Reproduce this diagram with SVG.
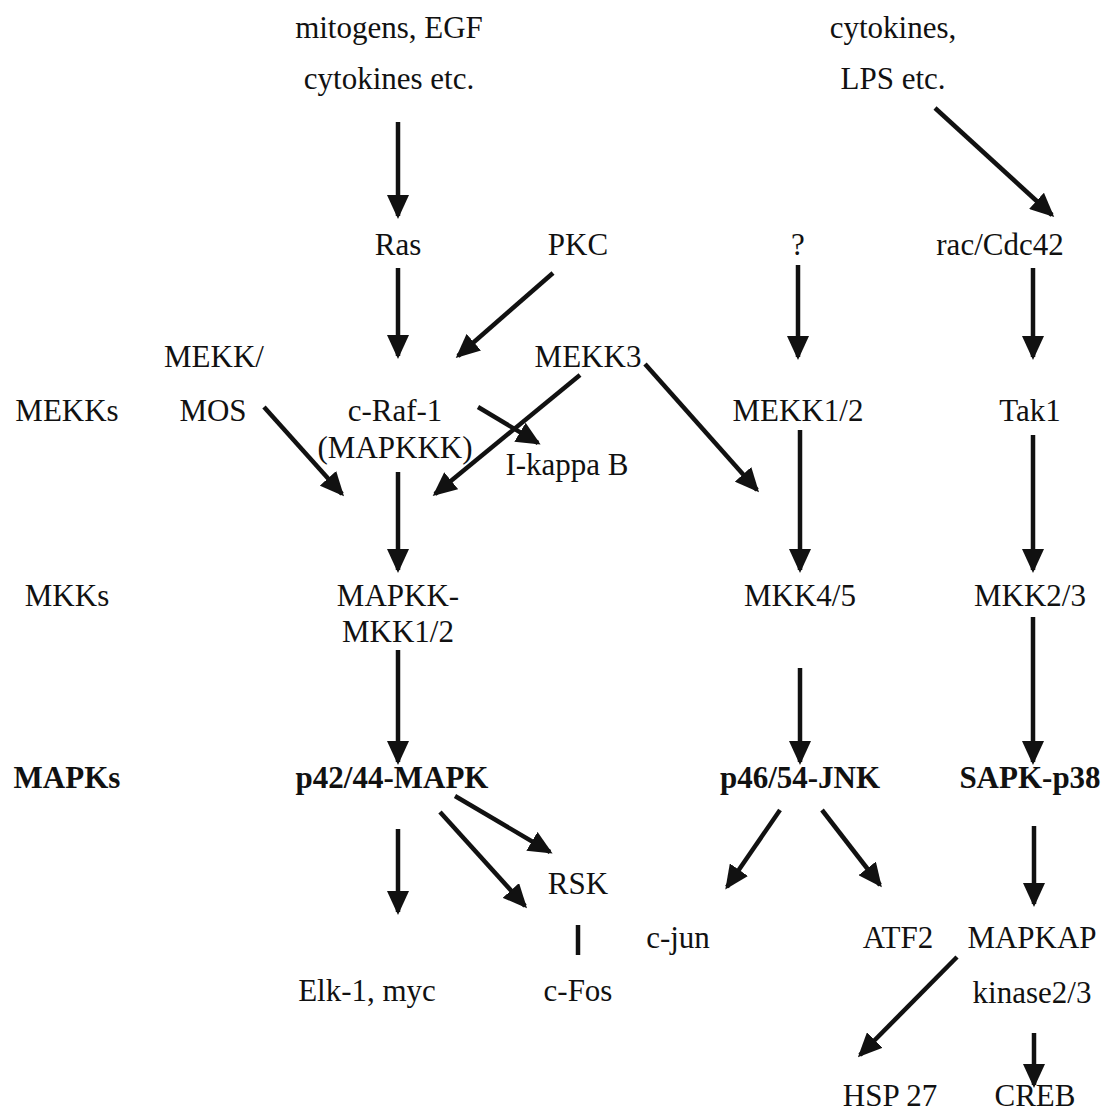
<svg xmlns="http://www.w3.org/2000/svg" width="1109" height="1117" viewBox="0 0 1109 1117">
<style>
text{font-family:"Liberation Serif","Times New Roman",serif;font-size:31px;fill:#111;text-anchor:middle}
.b{font-weight:bold}
.c line{stroke:#111;stroke-width:4.5;marker-end:url(#ah)}
.c line.nh{marker-end:none}
</style>
<defs>
<marker id="ah" markerUnits="userSpaceOnUse" markerWidth="24" markerHeight="22" refX="21" refY="11" orient="auto">
<path d="M0,0 L24,11 L0,22 z" fill="#111"/>
</marker>
</defs>
<rect width="1109" height="1117" fill="#fff"/>
<g class="c" id="connectors">
<line x1="398" y1="122" x2="398" y2="216"/>
<line x1="935" y1="108" x2="1052" y2="215"/>
<line x1="398" y1="268" x2="398" y2="356"/>
<line x1="553" y1="273" x2="458" y2="356"/>
<line x1="798" y1="265" x2="798" y2="357"/>
<line x1="1033" y1="268" x2="1033" y2="357"/>
<line x1="264" y1="407" x2="342" y2="494"/>
<line x1="478" y1="407" x2="538" y2="443"/>
<line x1="580" y1="375" x2="435" y2="494"/>
<line x1="645" y1="364" x2="757" y2="490"/>
<line x1="398" y1="472" x2="398" y2="570"/>
<line x1="800" y1="430" x2="800" y2="570"/>
<line x1="1033" y1="435" x2="1033" y2="570"/>
<line x1="398" y1="650" x2="398" y2="762"/>
<line x1="800" y1="668" x2="800" y2="762"/>
<line x1="1033" y1="617" x2="1033" y2="762"/>
<line x1="455" y1="796" x2="550" y2="852"/>
<line x1="440" y1="812" x2="525" y2="906"/>
<line x1="398" y1="829" x2="398" y2="912"/>
<line x1="780" y1="810" x2="727" y2="887"/>
<line x1="822" y1="810" x2="880" y2="885"/>
<line x1="1034" y1="826" x2="1034" y2="904"/>
<line class="nh" x1="578" y1="925" x2="578" y2="955"/>
<line x1="957" y1="957" x2="860" y2="1055"/>
<line x1="1034" y1="1033" x2="1034" y2="1085"/>
</g>
<g id="n-mitogens"><text x="389" y="38">mitogens, EGF</text><text x="389" y="89">cytokines etc.</text></g>
<g id="n-cytokines"><text x="893" y="38">cytokines,</text><text x="893" y="89">LPS etc.</text></g>
<g id="n-ras"><text x="398" y="255">Ras</text></g>
<g id="n-pkc"><text x="578" y="255">PKC</text></g>
<g id="n-q"><text x="798" y="255">?</text></g>
<g id="n-rac"><text x="1000" y="255">rac/Cdc42</text></g>
<g id="n-mekkmos"><text x="214" y="367">MEKK/</text><text x="213" y="421">MOS</text></g>
<g id="n-mekk3"><text x="588" y="367">MEKK3</text></g>
<g id="n-mekks"><text x="67" y="421">MEKKs</text></g>
<g id="n-craf"><text x="395" y="421">c-Raf-1</text><text x="395" y="458">(MAPKKK)</text></g>
<g id="n-mekk12"><text x="798" y="421">MEKK1/2</text></g>
<g id="n-tak1"><text x="1030" y="421">Tak1</text></g>
<g id="n-ikappab"><text x="567" y="475">I-kappa B</text></g>
<g id="n-mkks"><text x="67" y="606">MKKs</text></g>
<g id="n-mapkk"><text x="398" y="606">MAPKK-</text><text x="398" y="642">MKK1/2</text></g>
<g id="n-mkk45"><text x="800" y="606">MKK4/5</text></g>
<g id="n-mkk23"><text x="1030" y="606">MKK2/3</text></g>
<g id="n-mapks"><text class="b" x="67" y="788">MAPKs</text></g>
<g id="n-p42"><text class="b" x="392" y="788">p42/44-MAPK</text></g>
<g id="n-p46"><text class="b" x="800" y="788">p46/54-JNK</text></g>
<g id="n-sapk"><text class="b" x="1030" y="788">SAPK-p38</text></g>
<g id="n-rsk"><text x="578" y="894">RSK</text></g>
<g id="n-cjun"><text x="678" y="948">c-jun</text></g>
<g id="n-atf2"><text x="898" y="948">ATF2</text></g>
<g id="n-mapkap"><text x="1032" y="948">MAPKAP</text><text x="1032" y="1003">kinase2/3</text></g>
<g id="n-elk"><text x="367" y="1001">Elk-1, myc</text></g>
<g id="n-cfos"><text x="578" y="1001">c-Fos</text></g>
<g id="n-hsp"><text x="890" y="1106">HSP 27</text></g>
<g id="n-creb"><text x="1035" y="1106">CREB</text></g>
</svg>
